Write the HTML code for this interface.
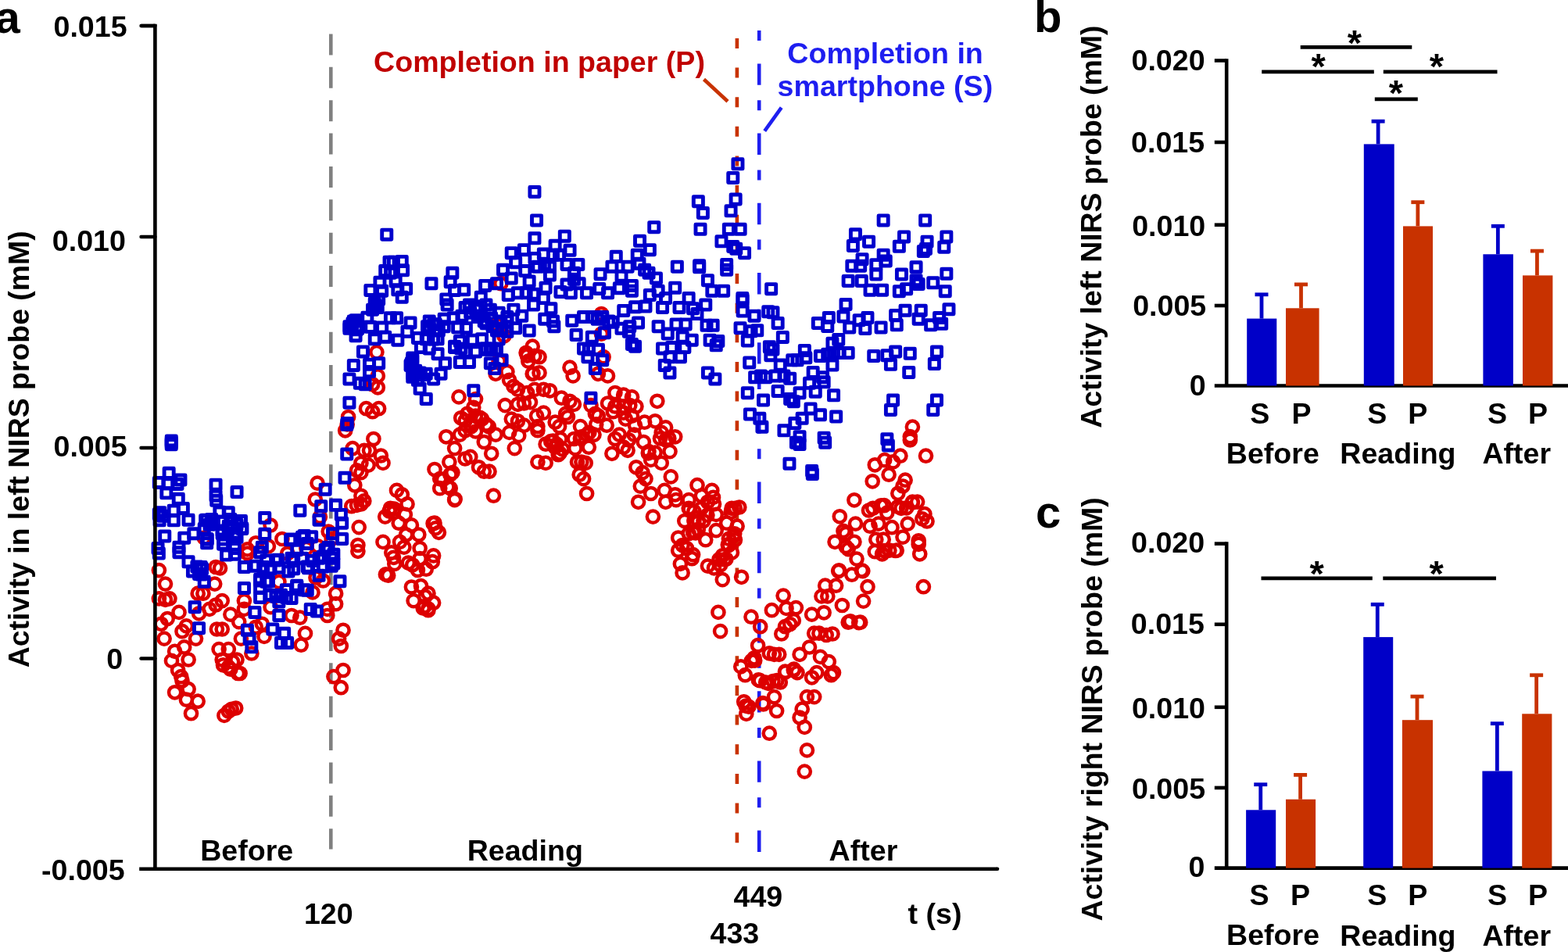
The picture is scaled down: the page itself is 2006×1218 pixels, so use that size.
<!DOCTYPE html>
<html><head><meta charset="utf-8"><title>Figure</title>
<style>html,body{margin:0;padding:0;background:#fff;overflow:hidden}svg{display:block}</style></head>
<body><svg width="2006" height="1218" viewBox="0 0 2006 1218" font-family="'Liberation Sans', Arial, Helvetica, sans-serif" font-weight="bold">
<rect width="2006" height="1218" fill="#fff"/>
<path d="M423.3 43.5 V1086.5" stroke="#808080" stroke-width="4.6" stroke-dasharray="27 15.36" fill="none"/>
<path d="M942.9 48.9 V1078.3" stroke="#C83200" stroke-width="4.6" stroke-dasharray="13 24.64" fill="none"/>
<path d="M971.2 39 V1091.3" stroke="#1E1EF0" stroke-width="4.6" stroke-dasharray="13 29.4 27.4 19.4" fill="none"/>
<path d="M900.5 101.5 L931 129.7" stroke="#C83200" stroke-width="4.6" fill="none"/>
<path d="M999.7 137.7 L978.2 167.6" stroke="#1E1EF0" stroke-width="4.6" fill="none"/>
<g fill="none" stroke="#DD0000" stroke-width="4.5">
<circle cx="406.0" cy="618.1" r="7.6"/>
<circle cx="403.3" cy="639.0" r="7.6"/>
<circle cx="409.4" cy="661.2" r="7.6"/>
<circle cx="451.1" cy="573.7" r="7.6"/>
<circle cx="441.7" cy="550.8" r="7.6"/>
<circle cx="465.9" cy="576.4" r="7.6"/>
<circle cx="461.9" cy="592.5" r="7.6"/>
<circle cx="456.5" cy="601.9" r="7.6"/>
<circle cx="461.9" cy="604.6" r="7.6"/>
<circle cx="453.8" cy="620.8" r="7.6"/>
<circle cx="461.9" cy="634.3" r="7.6"/>
<circle cx="449.8" cy="647.7" r="7.6"/>
<circle cx="456.5" cy="646.4" r="7.6"/>
<circle cx="461.9" cy="645.0" r="7.6"/>
<circle cx="459.2" cy="674.6" r="7.6"/>
<circle cx="457.9" cy="697.5" r="7.6"/>
<circle cx="346.1" cy="672.0" r="7.6"/>
<circle cx="327.3" cy="694.8" r="7.6"/>
<circle cx="343.4" cy="698.9" r="7.6"/>
<circle cx="360.9" cy="689.5" r="7.6"/>
<circle cx="316.5" cy="702.9" r="7.6"/>
<circle cx="420.2" cy="680.0" r="7.6"/>
<circle cx="424.2" cy="689.5" r="7.6"/>
<circle cx="406.7" cy="698.9" r="7.6"/>
<circle cx="391.9" cy="701.6" r="7.6"/>
<circle cx="261.3" cy="688.1" r="7.6"/>
<circle cx="203.4" cy="729.6" r="7.6"/>
<circle cx="211.5" cy="747.1" r="7.6"/>
<circle cx="276.1" cy="725.5" r="7.6"/>
<circle cx="281.5" cy="726.9" r="7.6"/>
<circle cx="274.7" cy="747.1" r="7.6"/>
<circle cx="253.2" cy="759.2" r="7.6"/>
<circle cx="259.9" cy="759.2" r="7.6"/>
<circle cx="203.4" cy="765.9" r="7.6"/>
<circle cx="216.9" cy="765.9" r="7.6"/>
<circle cx="211.5" cy="767.3" r="7.6"/>
<circle cx="229.0" cy="783.4" r="7.6"/>
<circle cx="268.0" cy="779.4" r="7.6"/>
<circle cx="276.1" cy="774.0" r="7.6"/>
<circle cx="284.2" cy="768.6" r="7.6"/>
<circle cx="254.6" cy="784.8" r="7.6"/>
<circle cx="294.9" cy="786.1" r="7.6"/>
<circle cx="312.4" cy="768.6" r="7.6"/>
<circle cx="312.4" cy="779.4" r="7.6"/>
<circle cx="305.7" cy="795.6" r="7.6"/>
<circle cx="206.1" cy="798.3" r="7.6"/>
<circle cx="214.2" cy="791.5" r="7.6"/>
<circle cx="233.0" cy="807.7" r="7.6"/>
<circle cx="238.4" cy="800.9" r="7.6"/>
<circle cx="210.1" cy="817.1" r="7.6"/>
<circle cx="250.5" cy="817.1" r="7.6"/>
<circle cx="277.4" cy="805.0" r="7.6"/>
<circle cx="284.2" cy="805.0" r="7.6"/>
<circle cx="308.4" cy="817.1" r="7.6"/>
<circle cx="338.0" cy="814.4" r="7.6"/>
<circle cx="346.1" cy="776.7" r="7.6"/>
<circle cx="356.9" cy="744.4" r="7.6"/>
<circle cx="373.0" cy="787.5" r="7.6"/>
<circle cx="383.8" cy="790.2" r="7.6"/>
<circle cx="390.5" cy="810.4" r="7.6"/>
<circle cx="385.2" cy="825.2" r="7.6"/>
<circle cx="418.8" cy="779.4" r="7.6"/>
<circle cx="418.8" cy="787.5" r="7.6"/>
<circle cx="429.6" cy="759.2" r="7.6"/>
<circle cx="429.6" cy="772.7" r="7.6"/>
<circle cx="413.4" cy="743.0" r="7.6"/>
<circle cx="404.0" cy="739.0" r="7.6"/>
<circle cx="400.0" cy="757.9" r="7.6"/>
<circle cx="316.5" cy="708.0" r="7.6"/>
<circle cx="367.7" cy="708.0" r="7.6"/>
<circle cx="457.9" cy="705.3" r="7.6"/>
<circle cx="439.0" cy="806.3" r="7.6"/>
<circle cx="433.6" cy="817.1" r="7.6"/>
<circle cx="436.3" cy="826.5" r="7.6"/>
<circle cx="223.6" cy="833.3" r="7.6"/>
<circle cx="235.7" cy="827.9" r="7.6"/>
<circle cx="241.1" cy="844.0" r="7.6"/>
<circle cx="219.5" cy="845.4" r="7.6"/>
<circle cx="227.6" cy="857.5" r="7.6"/>
<circle cx="231.7" cy="865.6" r="7.6"/>
<circle cx="280.1" cy="830.6" r="7.6"/>
<circle cx="292.3" cy="830.6" r="7.6"/>
<circle cx="284.2" cy="844.0" r="7.6"/>
<circle cx="297.6" cy="846.7" r="7.6"/>
<circle cx="303.0" cy="844.0" r="7.6"/>
<circle cx="292.3" cy="853.5" r="7.6"/>
<circle cx="307.1" cy="861.5" r="7.6"/>
<circle cx="321.9" cy="836.0" r="7.6"/>
<circle cx="439.0" cy="857.5" r="7.6"/>
<circle cx="426.9" cy="865.6" r="7.6"/>
<circle cx="335.3" cy="798.3" r="7.6"/>
<circle cx="327.3" cy="802.3" r="7.6"/>
<circle cx="233.0" cy="871.0" r="7.6"/>
<circle cx="223.6" cy="885.8" r="7.6"/>
<circle cx="241.1" cy="881.7" r="7.6"/>
<circle cx="238.4" cy="895.2" r="7.6"/>
<circle cx="253.2" cy="897.2" r="7.6"/>
<circle cx="244.5" cy="912.7" r="7.6"/>
<circle cx="304.4" cy="861.5" r="7.6"/>
<circle cx="294.9" cy="856.2" r="7.6"/>
<circle cx="285.5" cy="850.8" r="7.6"/>
<circle cx="286.9" cy="915.4" r="7.6"/>
<circle cx="292.3" cy="910.0" r="7.6"/>
<circle cx="296.3" cy="907.3" r="7.6"/>
<circle cx="301.7" cy="906.0" r="7.6"/>
<circle cx="436.3" cy="879.7" r="7.6"/>
<circle cx="640.8" cy="362.7" r="7.6"/>
<circle cx="481.9" cy="450.6" r="7.6"/>
<circle cx="483.3" cy="480.9" r="7.6"/>
<circle cx="483.3" cy="495.8" r="7.6"/>
<circle cx="476.6" cy="491.7" r="7.6"/>
<circle cx="468.5" cy="522.7" r="7.6"/>
<circle cx="476.6" cy="526.7" r="7.6"/>
<circle cx="484.6" cy="522.7" r="7.6"/>
<circle cx="445.6" cy="533.5" r="7.6"/>
<circle cx="444.2" cy="542.9" r="7.6"/>
<circle cx="644.9" cy="429.8" r="7.6"/>
<circle cx="635.4" cy="415.0" r="7.6"/>
<circle cx="638.1" cy="462.1" r="7.6"/>
<circle cx="634.1" cy="478.3" r="7.6"/>
<circle cx="648.9" cy="475.6" r="7.6"/>
<circle cx="651.6" cy="486.3" r="7.6"/>
<circle cx="657.0" cy="494.4" r="7.6"/>
<circle cx="662.4" cy="498.4" r="7.6"/>
<circle cx="673.1" cy="451.3" r="7.6"/>
<circle cx="681.2" cy="443.2" r="7.6"/>
<circle cx="683.9" cy="455.4" r="7.6"/>
<circle cx="681.2" cy="478.3" r="7.6"/>
<circle cx="675.8" cy="462.1" r="7.6"/>
<circle cx="674.5" cy="502.5" r="7.6"/>
<circle cx="683.9" cy="498.4" r="7.6"/>
<circle cx="587.0" cy="507.9" r="7.6"/>
<circle cx="608.5" cy="510.6" r="7.6"/>
<circle cx="605.8" cy="521.3" r="7.6"/>
<circle cx="589.7" cy="534.8" r="7.6"/>
<circle cx="597.7" cy="529.4" r="7.6"/>
<circle cx="608.5" cy="532.1" r="7.6"/>
<circle cx="616.6" cy="536.1" r="7.6"/>
<circle cx="601.8" cy="542.9" r="7.6"/>
<circle cx="622.0" cy="542.9" r="7.6"/>
<circle cx="646.2" cy="518.6" r="7.6"/>
<circle cx="662.4" cy="517.3" r="7.6"/>
<circle cx="670.4" cy="516.0" r="7.6"/>
<circle cx="678.5" cy="514.6" r="7.6"/>
<circle cx="654.3" cy="536.1" r="7.6"/>
<circle cx="662.4" cy="538.8" r="7.6"/>
<circle cx="670.4" cy="544.2" r="7.6"/>
<circle cx="686.6" cy="532.1" r="7.6"/>
<circle cx="687.9" cy="545.6" r="7.6"/>
<circle cx="769.4" cy="401.5" r="7.6"/>
<circle cx="769.4" cy="427.1" r="7.6"/>
<circle cx="772.1" cy="456.7" r="7.6"/>
<circle cx="690.0" cy="456.7" r="7.6"/>
<circle cx="690.0" cy="476.9" r="7.6"/>
<circle cx="729.0" cy="470.2" r="7.6"/>
<circle cx="733.1" cy="480.9" r="7.6"/>
<circle cx="765.4" cy="478.3" r="7.6"/>
<circle cx="777.5" cy="480.9" r="7.6"/>
<circle cx="695.4" cy="498.4" r="7.6"/>
<circle cx="703.5" cy="499.8" r="7.6"/>
<circle cx="718.3" cy="509.2" r="7.6"/>
<circle cx="729.0" cy="513.3" r="7.6"/>
<circle cx="734.4" cy="517.3" r="7.6"/>
<circle cx="723.7" cy="529.4" r="7.6"/>
<circle cx="726.4" cy="533.5" r="7.6"/>
<circle cx="695.4" cy="528.1" r="7.6"/>
<circle cx="756.0" cy="518.6" r="7.6"/>
<circle cx="761.4" cy="529.4" r="7.6"/>
<circle cx="765.4" cy="532.1" r="7.6"/>
<circle cx="786.9" cy="502.5" r="7.6"/>
<circle cx="797.7" cy="505.2" r="7.6"/>
<circle cx="808.5" cy="507.9" r="7.6"/>
<circle cx="777.5" cy="516.0" r="7.6"/>
<circle cx="786.9" cy="520.0" r="7.6"/>
<circle cx="797.7" cy="520.0" r="7.6"/>
<circle cx="805.8" cy="518.6" r="7.6"/>
<circle cx="813.9" cy="520.0" r="7.6"/>
<circle cx="784.3" cy="526.7" r="7.6"/>
<circle cx="797.7" cy="528.1" r="7.6"/>
<circle cx="808.5" cy="532.1" r="7.6"/>
<circle cx="800.4" cy="536.1" r="7.6"/>
<circle cx="840.8" cy="513.3" r="7.6"/>
<circle cx="838.1" cy="538.8" r="7.6"/>
<circle cx="824.6" cy="540.2" r="7.6"/>
<circle cx="812.5" cy="544.2" r="7.6"/>
<circle cx="851.6" cy="546.9" r="7.6"/>
<circle cx="776.2" cy="544.2" r="7.6"/>
<circle cx="762.7" cy="542.9" r="7.6"/>
<circle cx="742.5" cy="545.6" r="7.6"/>
<circle cx="710.2" cy="540.2" r="7.6"/>
<circle cx="715.6" cy="545.6" r="7.6"/>
<circle cx="477.9" cy="561.5" r="7.6"/>
<circle cx="472.5" cy="576.3" r="7.6"/>
<circle cx="487.3" cy="583.0" r="7.6"/>
<circle cx="490.0" cy="592.4" r="7.6"/>
<circle cx="471.2" cy="595.1" r="7.6"/>
<circle cx="465.8" cy="640.9" r="7.6"/>
<circle cx="492.7" cy="661.1" r="7.6"/>
<circle cx="499.4" cy="650.3" r="7.6"/>
<circle cx="503.5" cy="655.7" r="7.6"/>
<circle cx="507.5" cy="627.4" r="7.6"/>
<circle cx="514.3" cy="632.8" r="7.6"/>
<circle cx="521.0" cy="644.9" r="7.6"/>
<circle cx="518.3" cy="658.4" r="7.6"/>
<circle cx="510.2" cy="669.2" r="7.6"/>
<circle cx="526.4" cy="671.9" r="7.6"/>
<circle cx="535.8" cy="684.0" r="7.6"/>
<circle cx="519.6" cy="684.0" r="7.6"/>
<circle cx="511.6" cy="693.4" r="7.6"/>
<circle cx="516.9" cy="700.1" r="7.6"/>
<circle cx="537.1" cy="701.5" r="7.6"/>
<circle cx="490.0" cy="693.4" r="7.6"/>
<circle cx="500.8" cy="706.9" r="7.6"/>
<circle cx="554.6" cy="710.9" r="7.6"/>
<circle cx="556.0" cy="669.2" r="7.6"/>
<circle cx="561.4" cy="681.3" r="7.6"/>
<circle cx="556.0" cy="600.5" r="7.6"/>
<circle cx="574.8" cy="591.1" r="7.6"/>
<circle cx="578.9" cy="604.6" r="7.6"/>
<circle cx="562.7" cy="612.6" r="7.6"/>
<circle cx="562.7" cy="624.7" r="7.6"/>
<circle cx="576.2" cy="624.7" r="7.6"/>
<circle cx="581.6" cy="639.6" r="7.6"/>
<circle cx="570.8" cy="558.8" r="7.6"/>
<circle cx="581.6" cy="573.6" r="7.6"/>
<circle cx="588.3" cy="556.1" r="7.6"/>
<circle cx="595.0" cy="587.0" r="7.6"/>
<circle cx="601.8" cy="584.4" r="7.6"/>
<circle cx="595.0" cy="550.7" r="7.6"/>
<circle cx="612.5" cy="597.8" r="7.6"/>
<circle cx="619.3" cy="603.2" r="7.6"/>
<circle cx="626.0" cy="603.2" r="7.6"/>
<circle cx="619.3" cy="565.5" r="7.6"/>
<circle cx="628.7" cy="580.3" r="7.6"/>
<circle cx="634.1" cy="556.1" r="7.6"/>
<circle cx="631.4" cy="634.2" r="7.6"/>
<circle cx="651.6" cy="553.4" r="7.6"/>
<circle cx="663.7" cy="557.4" r="7.6"/>
<circle cx="658.3" cy="573.6" r="7.6"/>
<circle cx="608.5" cy="552.0" r="7.6"/>
<circle cx="687.9" cy="550.7" r="7.6"/>
<circle cx="687.9" cy="591.1" r="7.6"/>
<circle cx="698.1" cy="568.2" r="7.6"/>
<circle cx="707.5" cy="564.2" r="7.6"/>
<circle cx="716.9" cy="561.5" r="7.6"/>
<circle cx="714.2" cy="581.7" r="7.6"/>
<circle cx="710.2" cy="572.2" r="7.6"/>
<circle cx="719.6" cy="574.9" r="7.6"/>
<circle cx="698.1" cy="592.4" r="7.6"/>
<circle cx="734.4" cy="561.5" r="7.6"/>
<circle cx="735.8" cy="573.6" r="7.6"/>
<circle cx="743.9" cy="558.8" r="7.6"/>
<circle cx="753.3" cy="572.2" r="7.6"/>
<circle cx="750.6" cy="556.1" r="7.6"/>
<circle cx="760.0" cy="556.1" r="7.6"/>
<circle cx="743.9" cy="591.1" r="7.6"/>
<circle cx="738.5" cy="591.1" r="7.6"/>
<circle cx="749.2" cy="592.4" r="7.6"/>
<circle cx="741.2" cy="607.2" r="7.6"/>
<circle cx="746.6" cy="612.6" r="7.6"/>
<circle cx="750.6" cy="631.5" r="7.6"/>
<circle cx="782.9" cy="580.3" r="7.6"/>
<circle cx="786.9" cy="561.5" r="7.6"/>
<circle cx="797.7" cy="572.2" r="7.6"/>
<circle cx="803.1" cy="576.3" r="7.6"/>
<circle cx="792.3" cy="556.1" r="7.6"/>
<circle cx="804.4" cy="562.8" r="7.6"/>
<circle cx="811.2" cy="556.1" r="7.6"/>
<circle cx="823.3" cy="565.5" r="7.6"/>
<circle cx="830.0" cy="577.6" r="7.6"/>
<circle cx="838.1" cy="579.0" r="7.6"/>
<circle cx="832.7" cy="588.4" r="7.6"/>
<circle cx="846.2" cy="592.4" r="7.6"/>
<circle cx="857.0" cy="577.6" r="7.6"/>
<circle cx="851.6" cy="562.8" r="7.6"/>
<circle cx="863.7" cy="558.8" r="7.6"/>
<circle cx="846.2" cy="553.4" r="7.6"/>
<circle cx="813.9" cy="597.8" r="7.6"/>
<circle cx="822.0" cy="604.6" r="7.6"/>
<circle cx="826.0" cy="612.6" r="7.6"/>
<circle cx="819.3" cy="622.1" r="7.6"/>
<circle cx="832.7" cy="631.5" r="7.6"/>
<circle cx="858.3" cy="609.9" r="7.6"/>
<circle cx="816.6" cy="642.3" r="7.6"/>
<circle cx="850.2" cy="627.4" r="7.6"/>
<circle cx="851.6" cy="642.3" r="7.6"/>
<circle cx="863.7" cy="632.8" r="7.6"/>
<circle cx="865.0" cy="639.6" r="7.6"/>
<circle cx="835.4" cy="661.1" r="7.6"/>
<circle cx="892.0" cy="620.7" r="7.6"/>
<circle cx="881.2" cy="639.6" r="7.6"/>
<circle cx="910.8" cy="627.4" r="7.6"/>
<circle cx="897.4" cy="634.2" r="7.6"/>
<circle cx="905.4" cy="642.3" r="7.6"/>
<circle cx="881.2" cy="650.3" r="7.6"/>
<circle cx="887.9" cy="654.4" r="7.6"/>
<circle cx="897.4" cy="650.3" r="7.6"/>
<circle cx="913.5" cy="644.9" r="7.6"/>
<circle cx="916.2" cy="658.4" r="7.6"/>
<circle cx="875.8" cy="666.5" r="7.6"/>
<circle cx="887.9" cy="666.5" r="7.6"/>
<circle cx="900.0" cy="666.5" r="7.6"/>
<circle cx="893.3" cy="677.3" r="7.6"/>
<circle cx="886.6" cy="681.3" r="7.6"/>
<circle cx="881.2" cy="682.6" r="7.6"/>
<circle cx="916.2" cy="678.6" r="7.6"/>
<circle cx="902.7" cy="690.7" r="7.6"/>
<circle cx="867.7" cy="688.0" r="7.6"/>
<circle cx="873.1" cy="697.5" r="7.6"/>
<circle cx="867.7" cy="704.2" r="7.6"/>
<circle cx="878.5" cy="701.5" r="7.6"/>
<circle cx="886.6" cy="709.6" r="7.6"/>
<circle cx="929.7" cy="669.2" r="7.6"/>
<circle cx="940.4" cy="650.3" r="7.6"/>
<circle cx="945.8" cy="649.0" r="7.6"/>
<circle cx="943.1" cy="673.2" r="7.6"/>
<circle cx="932.4" cy="689.4" r="7.6"/>
<circle cx="940.4" cy="690.7" r="7.6"/>
<circle cx="932.4" cy="697.5" r="7.6"/>
<circle cx="936.4" cy="706.9" r="7.6"/>
<circle cx="924.3" cy="710.9" r="7.6"/>
<circle cx="496.7" cy="736.2" r="7.6"/>
<circle cx="493.4" cy="734.9" r="7.6"/>
<circle cx="504.8" cy="721.4" r="7.6"/>
<circle cx="503.5" cy="713.3" r="7.6"/>
<circle cx="522.3" cy="720.1" r="7.6"/>
<circle cx="527.7" cy="722.8" r="7.6"/>
<circle cx="534.4" cy="729.5" r="7.6"/>
<circle cx="545.2" cy="728.2" r="7.6"/>
<circle cx="537.1" cy="714.7" r="7.6"/>
<circle cx="553.3" cy="718.7" r="7.6"/>
<circle cx="526.4" cy="751.0" r="7.6"/>
<circle cx="538.5" cy="749.7" r="7.6"/>
<circle cx="547.9" cy="759.1" r="7.6"/>
<circle cx="543.9" cy="763.2" r="7.6"/>
<circle cx="529.1" cy="768.6" r="7.6"/>
<circle cx="554.6" cy="771.2" r="7.6"/>
<circle cx="547.9" cy="780.7" r="7.6"/>
<circle cx="541.2" cy="778.0" r="7.6"/>
<circle cx="870.4" cy="721.4" r="7.6"/>
<circle cx="873.1" cy="732.9" r="7.6"/>
<circle cx="885.2" cy="714.7" r="7.6"/>
<circle cx="905.4" cy="724.1" r="7.6"/>
<circle cx="913.5" cy="726.8" r="7.6"/>
<circle cx="921.6" cy="722.8" r="7.6"/>
<circle cx="927.0" cy="716.0" r="7.6"/>
<circle cx="924.3" cy="741.6" r="7.6"/>
<circle cx="918.9" cy="783.4" r="7.6"/>
<circle cx="921.6" cy="807.6" r="7.6"/>
<circle cx="1167.4" cy="546.2" r="7.6"/>
<circle cx="1164.3" cy="558.6" r="7.6"/>
<circle cx="1184.5" cy="583.2" r="7.6"/>
<circle cx="1151.9" cy="583.2" r="7.6"/>
<circle cx="1131.7" cy="588.6" r="7.6"/>
<circle cx="1142.6" cy="590.9" r="7.6"/>
<circle cx="1119.3" cy="594.8" r="7.6"/>
<circle cx="1137.1" cy="607.2" r="7.6"/>
<circle cx="1116.2" cy="615.8" r="7.6"/>
<circle cx="1158.1" cy="614.2" r="7.6"/>
<circle cx="1155.0" cy="622.0" r="7.6"/>
<circle cx="1148.8" cy="631.3" r="7.6"/>
<circle cx="1092.9" cy="639.8" r="7.6"/>
<circle cx="1074.3" cy="660.8" r="7.6"/>
<circle cx="1111.5" cy="653.0" r="7.6"/>
<circle cx="1127.1" cy="646.8" r="7.6"/>
<circle cx="1134.8" cy="656.1" r="7.6"/>
<circle cx="1148.8" cy="648.3" r="7.6"/>
<circle cx="1159.6" cy="649.9" r="7.6"/>
<circle cx="1167.4" cy="642.1" r="7.6"/>
<circle cx="1173.6" cy="642.1" r="7.6"/>
<circle cx="1182.9" cy="657.6" r="7.6"/>
<circle cx="1186.0" cy="667.0" r="7.6"/>
<circle cx="1179.8" cy="663.9" r="7.6"/>
<circle cx="1161.2" cy="670.1" r="7.6"/>
<circle cx="1141.0" cy="674.7" r="7.6"/>
<circle cx="1123.9" cy="670.1" r="7.6"/>
<circle cx="1113.1" cy="673.2" r="7.6"/>
<circle cx="1094.5" cy="670.1" r="7.6"/>
<circle cx="1079.0" cy="679.4" r="7.6"/>
<circle cx="1082.1" cy="682.5" r="7.6"/>
<circle cx="1092.9" cy="693.3" r="7.6"/>
<circle cx="1068.1" cy="693.3" r="7.6"/>
<circle cx="1085.2" cy="702.6" r="7.6"/>
<circle cx="1082.1" cy="699.5" r="7.6"/>
<circle cx="1096.0" cy="715.1" r="7.6"/>
<circle cx="1120.8" cy="690.2" r="7.6"/>
<circle cx="1130.2" cy="690.2" r="7.6"/>
<circle cx="1155.0" cy="687.1" r="7.6"/>
<circle cx="1175.2" cy="691.8" r="7.6"/>
<circle cx="1175.2" cy="696.4" r="7.6"/>
<circle cx="1176.7" cy="708.8" r="7.6"/>
<circle cx="1119.3" cy="705.7" r="7.6"/>
<circle cx="1128.6" cy="708.8" r="7.6"/>
<circle cx="1137.9" cy="704.2" r="7.6"/>
<circle cx="1147.2" cy="704.2" r="7.6"/>
<circle cx="1072.7" cy="730.6" r="7.6"/>
<circle cx="1089.8" cy="735.2" r="7.6"/>
<circle cx="1103.8" cy="730.6" r="7.6"/>
<circle cx="1055.7" cy="749.2" r="7.6"/>
<circle cx="1069.6" cy="749.2" r="7.6"/>
<circle cx="1110.0" cy="750.7" r="7.6"/>
<circle cx="1181.4" cy="750.7" r="7.6"/>
<circle cx="948.6" cy="738.3" r="7.6"/>
<circle cx="1164.3" cy="563.0" r="7.6"/>
<circle cx="1002.1" cy="762.1" r="7.6"/>
<circle cx="987.4" cy="780.7" r="7.6"/>
<circle cx="1006.0" cy="778.4" r="7.6"/>
<circle cx="1018.4" cy="777.6" r="7.6"/>
<circle cx="961.0" cy="789.2" r="7.6"/>
<circle cx="972.7" cy="801.7" r="7.6"/>
<circle cx="999.8" cy="811.0" r="7.6"/>
<circle cx="1004.5" cy="801.7" r="7.6"/>
<circle cx="1010.7" cy="798.5" r="7.6"/>
<circle cx="1015.3" cy="793.9" r="7.6"/>
<circle cx="1051.0" cy="762.9" r="7.6"/>
<circle cx="1058.8" cy="762.9" r="7.6"/>
<circle cx="1038.6" cy="786.1" r="7.6"/>
<circle cx="1054.1" cy="783.8" r="7.6"/>
<circle cx="1077.4" cy="774.5" r="7.6"/>
<circle cx="1104.6" cy="769.1" r="7.6"/>
<circle cx="1085.2" cy="796.2" r="7.6"/>
<circle cx="1100.7" cy="796.2" r="7.6"/>
<circle cx="1041.7" cy="810.2" r="7.6"/>
<circle cx="1047.9" cy="810.2" r="7.6"/>
<circle cx="1057.2" cy="812.5" r="7.6"/>
<circle cx="1065.0" cy="811.0" r="7.6"/>
<circle cx="969.6" cy="825.7" r="7.6"/>
<circle cx="984.3" cy="835.8" r="7.6"/>
<circle cx="996.7" cy="837.3" r="7.6"/>
<circle cx="990.5" cy="837.3" r="7.6"/>
<circle cx="1023.1" cy="837.3" r="7.6"/>
<circle cx="1035.5" cy="828.0" r="7.6"/>
<circle cx="1049.5" cy="840.4" r="7.6"/>
<circle cx="1060.3" cy="846.6" r="7.6"/>
<circle cx="965.7" cy="845.1" r="7.6"/>
<circle cx="947.8" cy="852.9" r="7.6"/>
<circle cx="953.3" cy="863.7" r="7.6"/>
<circle cx="970.3" cy="869.9" r="7.6"/>
<circle cx="979.7" cy="873.0" r="7.6"/>
<circle cx="989.0" cy="871.5" r="7.6"/>
<circle cx="998.3" cy="873.0" r="7.6"/>
<circle cx="1004.5" cy="859.1" r="7.6"/>
<circle cx="1015.3" cy="857.5" r="7.6"/>
<circle cx="1020.0" cy="860.6" r="7.6"/>
<circle cx="1038.6" cy="866.8" r="7.6"/>
<circle cx="1044.8" cy="860.6" r="7.6"/>
<circle cx="1063.4" cy="863.7" r="7.6"/>
<circle cx="1066.5" cy="860.6" r="7.6"/>
<circle cx="951.7" cy="897.8" r="7.6"/>
<circle cx="957.9" cy="904.1" r="7.6"/>
<circle cx="954.8" cy="913.4" r="7.6"/>
<circle cx="976.5" cy="901.0" r="7.6"/>
<circle cx="990.5" cy="891.6" r="7.6"/>
<circle cx="993.6" cy="909.5" r="7.6"/>
<circle cx="1032.4" cy="891.6" r="7.6"/>
<circle cx="1041.7" cy="891.6" r="7.6"/>
<circle cx="1026.2" cy="907.2" r="7.6"/>
<circle cx="1023.1" cy="918.0" r="7.6"/>
<circle cx="1029.3" cy="930.4" r="7.6"/>
<circle cx="984.3" cy="938.2" r="7.6"/>
<circle cx="1032.4" cy="959.9" r="7.6"/>
<circle cx="1029.3" cy="987.1" r="7.6"/>
<circle cx="972.3" cy="870.7" r="7.6"/>
<circle cx="983.1" cy="874.3" r="7.6"/>
<circle cx="993.9" cy="870.7" r="7.6"/>
<circle cx="1004.8" cy="859.9" r="7.6"/>
<circle cx="1015.6" cy="856.2" r="7.6"/>
<circle cx="961.4" cy="845.4" r="7.6"/>
<circle cx="965.0" cy="841.8" r="7.6"/>
<circle cx="1073.4" cy="729.8" r="7.6"/>
<circle cx="1102.3" cy="729.8" r="7.6"/>
<circle cx="1087.9" cy="794.8" r="7.6"/>
<circle cx="1098.7" cy="796.6" r="7.6"/>
<circle cx="1116.8" cy="650.3" r="7.6"/>
<circle cx="1131.2" cy="646.7" r="7.6"/>
<circle cx="1152.9" cy="650.3" r="7.6"/>
<circle cx="1167.3" cy="643.1" r="7.6"/>
<circle cx="936.1" cy="650.3" r="7.6"/>
<circle cx="939.7" cy="682.8" r="7.6"/>
<circle cx="928.9" cy="715.3" r="7.6"/>
<circle cx="954.2" cy="903.2" r="7.6"/>
<circle cx="975.9" cy="899.6" r="7.6"/>
<circle cx="1131.2" cy="704.5" r="7.6"/>
<circle cx="1145.7" cy="704.5" r="7.6"/>
<circle cx="595.1" cy="538.2" r="7.6"/>
<circle cx="602.7" cy="545.8" r="7.6"/>
<circle cx="625.3" cy="545.8" r="7.6"/>
<circle cx="614.0" cy="534.4" r="7.6"/>
<circle cx="712.2" cy="568.4" r="7.6"/>
<circle cx="716.0" cy="579.8" r="7.6"/>
<circle cx="704.7" cy="564.7" r="7.6"/>
<circle cx="674.4" cy="455.1" r="7.6"/>
<circle cx="682.0" cy="477.8" r="7.6"/>
<circle cx="882.2" cy="651.6" r="7.6"/>
<circle cx="893.6" cy="666.7" r="7.6"/>
<circle cx="904.9" cy="659.1" r="7.6"/>
<circle cx="889.8" cy="681.8" r="7.6"/>
<circle cx="912.5" cy="636.4" r="7.6"/>
<circle cx="935.1" cy="655.3" r="7.6"/>
<circle cx="938.9" cy="685.6" r="7.6"/>
<circle cx="931.3" cy="696.9" r="7.6"/>
<circle cx="920.0" cy="715.8" r="7.6"/>
<circle cx="829.3" cy="579.8" r="7.6"/>
<circle cx="844.5" cy="560.9" r="7.6"/>
<circle cx="855.8" cy="560.9" r="7.6"/>
<circle cx="742.4" cy="560.9" r="7.6"/>
<circle cx="753.8" cy="553.3" r="7.6"/>
<circle cx="566.6" cy="613.5" r="7.6"/>
<circle cx="572.8" cy="622.9" r="7.6"/>
<circle cx="582.1" cy="638.5" r="7.6"/>
<circle cx="575.9" cy="607.3" r="7.6"/>
<circle cx="547.8" cy="778.8" r="7.6"/>
<circle cx="543.2" cy="775.7" r="7.6"/>
<circle cx="554.1" cy="669.7" r="7.6"/>
<circle cx="557.2" cy="675.9" r="7.6"/>
<circle cx="498.0" cy="654.1" r="7.6"/>
<circle cx="504.2" cy="651.0" r="7.6"/>
</g>
<g fill="none" stroke="#0000CC" stroke-width="4.9" stroke-linejoin="round">
<rect x="213.2" y="557.9" width="12.1" height="12.1"/>
<rect x="213.2" y="560.2" width="12.1" height="12.1"/>
<rect x="213.2" y="562.6" width="12.1" height="12.1"/>
<rect x="210.1" y="599.3" width="12.1" height="12.1"/>
<rect x="224.9" y="608.0" width="12.1" height="12.1"/>
<rect x="197.3" y="611.4" width="12.1" height="12.1"/>
<rect x="208.8" y="612.7" width="12.1" height="12.1"/>
<rect x="220.9" y="613.4" width="12.1" height="12.1"/>
<rect x="206.8" y="624.8" width="12.1" height="12.1"/>
<rect x="222.2" y="632.2" width="12.1" height="12.1"/>
<rect x="270.0" y="614.1" width="12.1" height="12.1"/>
<rect x="270.0" y="628.2" width="12.1" height="12.1"/>
<rect x="270.7" y="634.3" width="12.1" height="12.1"/>
<rect x="297.0" y="623.5" width="12.1" height="12.1"/>
<rect x="198.7" y="649.7" width="12.1" height="12.1"/>
<rect x="216.2" y="647.1" width="12.1" height="12.1"/>
<rect x="228.3" y="644.4" width="12.1" height="12.1"/>
<rect x="198.0" y="659.8" width="12.1" height="12.1"/>
<rect x="216.2" y="659.8" width="12.1" height="12.1"/>
<rect x="235.0" y="659.2" width="12.1" height="12.1"/>
<rect x="257.9" y="659.2" width="12.1" height="12.1"/>
<rect x="264.7" y="663.2" width="12.1" height="12.1"/>
<rect x="274.8" y="649.1" width="12.1" height="12.1"/>
<rect x="286.2" y="649.7" width="12.1" height="12.1"/>
<rect x="302.4" y="660.5" width="12.1" height="12.1"/>
<rect x="303.7" y="669.9" width="12.1" height="12.1"/>
<rect x="286.2" y="667.2" width="12.1" height="12.1"/>
<rect x="278.1" y="676.7" width="12.1" height="12.1"/>
<rect x="294.3" y="679.4" width="12.1" height="12.1"/>
<rect x="241.8" y="676.7" width="12.1" height="12.1"/>
<rect x="229.7" y="682.1" width="12.1" height="12.1"/>
<rect x="204.7" y="680.0" width="12.1" height="12.1"/>
<rect x="258.6" y="683.4" width="12.1" height="12.1"/>
<rect x="258.6" y="688.8" width="12.1" height="12.1"/>
<rect x="279.5" y="690.1" width="12.1" height="12.1"/>
<rect x="222.9" y="694.2" width="12.1" height="12.1"/>
<rect x="196.0" y="695.5" width="12.1" height="12.1"/>
<rect x="294.3" y="695.5" width="12.1" height="12.1"/>
<rect x="332.7" y="656.5" width="12.1" height="12.1"/>
<rect x="332.7" y="677.3" width="12.1" height="12.1"/>
<rect x="329.3" y="694.2" width="12.1" height="12.1"/>
<rect x="377.8" y="647.1" width="12.1" height="12.1"/>
<rect x="365.6" y="684.8" width="12.1" height="12.1"/>
<rect x="383.1" y="679.4" width="12.1" height="12.1"/>
<rect x="392.6" y="680.7" width="12.1" height="12.1"/>
<rect x="402.0" y="659.2" width="12.1" height="12.1"/>
<rect x="404.7" y="641.7" width="12.1" height="12.1"/>
<rect x="410.1" y="620.1" width="12.1" height="12.1"/>
<rect x="423.5" y="640.3" width="12.1" height="12.1"/>
<rect x="430.3" y="652.4" width="12.1" height="12.1"/>
<rect x="431.6" y="663.2" width="12.1" height="12.1"/>
<rect x="419.5" y="676.7" width="12.1" height="12.1"/>
<rect x="431.6" y="683.4" width="12.1" height="12.1"/>
<rect x="414.1" y="694.2" width="12.1" height="12.1"/>
<rect x="435.0" y="605.3" width="12.1" height="12.1"/>
<rect x="437.7" y="575.0" width="12.1" height="12.1"/>
<rect x="437.7" y="537.3" width="12.1" height="12.1"/>
<rect x="197.3" y="702.0" width="12.1" height="12.1"/>
<rect x="222.9" y="700.6" width="12.1" height="12.1"/>
<rect x="235.0" y="712.8" width="12.1" height="12.1"/>
<rect x="251.2" y="719.5" width="12.1" height="12.1"/>
<rect x="240.4" y="724.9" width="12.1" height="12.1"/>
<rect x="251.2" y="728.9" width="12.1" height="12.1"/>
<rect x="255.2" y="738.3" width="12.1" height="12.1"/>
<rect x="283.5" y="704.0" width="12.1" height="12.1"/>
<rect x="294.3" y="703.3" width="12.1" height="12.1"/>
<rect x="306.4" y="719.5" width="12.1" height="12.1"/>
<rect x="321.2" y="718.1" width="12.1" height="12.1"/>
<rect x="330.6" y="719.5" width="12.1" height="12.1"/>
<rect x="326.6" y="700.6" width="12.1" height="12.1"/>
<rect x="349.5" y="710.1" width="12.1" height="12.1"/>
<rect x="369.7" y="711.4" width="12.1" height="12.1"/>
<rect x="362.9" y="724.9" width="12.1" height="12.1"/>
<rect x="393.9" y="711.4" width="12.1" height="12.1"/>
<rect x="407.4" y="706.0" width="12.1" height="12.1"/>
<rect x="420.8" y="703.3" width="12.1" height="12.1"/>
<rect x="418.2" y="718.1" width="12.1" height="12.1"/>
<rect x="388.5" y="720.8" width="12.1" height="12.1"/>
<rect x="402.0" y="730.3" width="12.1" height="12.1"/>
<rect x="428.9" y="737.7" width="12.1" height="12.1"/>
<rect x="326.6" y="737.0" width="12.1" height="12.1"/>
<rect x="334.7" y="738.3" width="12.1" height="12.1"/>
<rect x="306.4" y="746.4" width="12.1" height="12.1"/>
<rect x="326.6" y="758.5" width="12.1" height="12.1"/>
<rect x="346.8" y="757.2" width="12.1" height="12.1"/>
<rect x="360.3" y="758.5" width="12.1" height="12.1"/>
<rect x="373.7" y="743.7" width="12.1" height="12.1"/>
<rect x="387.2" y="749.1" width="12.1" height="12.1"/>
<rect x="350.8" y="763.9" width="12.1" height="12.1"/>
<rect x="319.9" y="777.4" width="12.1" height="12.1"/>
<rect x="350.8" y="781.4" width="12.1" height="12.1"/>
<rect x="391.2" y="773.4" width="12.1" height="12.1"/>
<rect x="399.3" y="776.0" width="12.1" height="12.1"/>
<rect x="243.1" y="770.7" width="12.1" height="12.1"/>
<rect x="248.5" y="797.6" width="12.1" height="12.1"/>
<rect x="310.4" y="800.3" width="12.1" height="12.1"/>
<rect x="313.1" y="811.1" width="12.1" height="12.1"/>
<rect x="315.8" y="821.8" width="12.1" height="12.1"/>
<rect x="342.8" y="798.9" width="12.1" height="12.1"/>
<rect x="357.6" y="804.3" width="12.1" height="12.1"/>
<rect x="353.5" y="816.4" width="12.1" height="12.1"/>
<rect x="361.6" y="816.4" width="12.1" height="12.1"/>
<rect x="488.7" y="294.1" width="12.1" height="12.1"/>
<rect x="492.0" y="329.1" width="12.1" height="12.1"/>
<rect x="497.4" y="329.1" width="12.1" height="12.1"/>
<rect x="508.2" y="328.4" width="12.1" height="12.1"/>
<rect x="486.7" y="340.5" width="12.1" height="12.1"/>
<rect x="493.4" y="343.2" width="12.1" height="12.1"/>
<rect x="509.5" y="339.8" width="12.1" height="12.1"/>
<rect x="479.9" y="355.3" width="12.1" height="12.1"/>
<rect x="500.1" y="354.0" width="12.1" height="12.1"/>
<rect x="467.8" y="365.4" width="12.1" height="12.1"/>
<rect x="482.6" y="366.1" width="12.1" height="12.1"/>
<rect x="502.8" y="364.8" width="12.1" height="12.1"/>
<rect x="513.6" y="363.4" width="12.1" height="12.1"/>
<rect x="508.2" y="374.2" width="12.1" height="12.1"/>
<rect x="545.9" y="356.7" width="12.1" height="12.1"/>
<rect x="572.8" y="343.2" width="12.1" height="12.1"/>
<rect x="570.1" y="354.7" width="12.1" height="12.1"/>
<rect x="575.5" y="365.4" width="12.1" height="12.1"/>
<rect x="587.6" y="364.8" width="12.1" height="12.1"/>
<rect x="614.6" y="359.4" width="12.1" height="12.1"/>
<rect x="629.4" y="356.7" width="12.1" height="12.1"/>
<rect x="637.5" y="339.2" width="12.1" height="12.1"/>
<rect x="648.2" y="317.6" width="12.1" height="12.1"/>
<rect x="653.6" y="329.7" width="12.1" height="12.1"/>
<rect x="648.2" y="349.9" width="12.1" height="12.1"/>
<rect x="664.4" y="313.6" width="12.1" height="12.1"/>
<rect x="665.7" y="340.5" width="12.1" height="12.1"/>
<rect x="671.1" y="354.0" width="12.1" height="12.1"/>
<rect x="677.9" y="239.5" width="12.1" height="12.1"/>
<rect x="680.5" y="275.9" width="12.1" height="12.1"/>
<rect x="677.9" y="298.8" width="12.1" height="12.1"/>
<rect x="677.9" y="324.4" width="12.1" height="12.1"/>
<rect x="681.9" y="335.1" width="12.1" height="12.1"/>
<rect x="644.2" y="371.5" width="12.1" height="12.1"/>
<rect x="656.3" y="368.8" width="12.1" height="12.1"/>
<rect x="667.1" y="368.8" width="12.1" height="12.1"/>
<rect x="676.5" y="370.1" width="12.1" height="12.1"/>
<rect x="609.2" y="374.2" width="12.1" height="12.1"/>
<rect x="564.8" y="376.9" width="12.1" height="12.1"/>
<rect x="478.6" y="376.9" width="12.1" height="12.1"/>
<rect x="931.7" y="221.4" width="12.1" height="12.1"/>
<rect x="935.1" y="249.0" width="12.1" height="12.1"/>
<rect x="929.0" y="263.8" width="12.1" height="12.1"/>
<rect x="887.3" y="251.7" width="12.1" height="12.1"/>
<rect x="893.3" y="266.5" width="12.1" height="12.1"/>
<rect x="890.0" y="287.3" width="12.1" height="12.1"/>
<rect x="926.3" y="287.3" width="12.1" height="12.1"/>
<rect x="941.1" y="287.3" width="12.1" height="12.1"/>
<rect x="916.9" y="302.8" width="12.1" height="12.1"/>
<rect x="931.7" y="309.5" width="12.1" height="12.1"/>
<rect x="935.7" y="312.2" width="12.1" height="12.1"/>
<rect x="946.5" y="317.6" width="12.1" height="12.1"/>
<rect x="888.6" y="333.8" width="12.1" height="12.1"/>
<rect x="888.6" y="335.8" width="12.1" height="12.1"/>
<rect x="923.6" y="332.4" width="12.1" height="12.1"/>
<rect x="923.6" y="339.2" width="12.1" height="12.1"/>
<rect x="899.4" y="352.6" width="12.1" height="12.1"/>
<rect x="904.8" y="366.1" width="12.1" height="12.1"/>
<rect x="919.6" y="366.1" width="12.1" height="12.1"/>
<rect x="875.1" y="375.5" width="12.1" height="12.1"/>
<rect x="943.8" y="375.5" width="12.1" height="12.1"/>
<rect x="860.3" y="335.1" width="12.1" height="12.1"/>
<rect x="857.6" y="362.1" width="12.1" height="12.1"/>
<rect x="830.7" y="284.6" width="12.1" height="12.1"/>
<rect x="812.5" y="302.1" width="12.1" height="12.1"/>
<rect x="825.3" y="313.6" width="12.1" height="12.1"/>
<rect x="809.2" y="320.3" width="12.1" height="12.1"/>
<rect x="782.2" y="322.3" width="12.1" height="12.1"/>
<rect x="776.9" y="335.1" width="12.1" height="12.1"/>
<rect x="797.1" y="335.1" width="12.1" height="12.1"/>
<rect x="811.9" y="331.1" width="12.1" height="12.1"/>
<rect x="818.6" y="339.2" width="12.1" height="12.1"/>
<rect x="824.0" y="343.2" width="12.1" height="12.1"/>
<rect x="833.4" y="349.9" width="12.1" height="12.1"/>
<rect x="762.0" y="344.6" width="12.1" height="12.1"/>
<rect x="789.0" y="347.2" width="12.1" height="12.1"/>
<rect x="760.7" y="363.4" width="12.1" height="12.1"/>
<rect x="771.5" y="368.8" width="12.1" height="12.1"/>
<rect x="786.3" y="362.7" width="12.1" height="12.1"/>
<rect x="802.4" y="359.4" width="12.1" height="12.1"/>
<rect x="802.4" y="366.1" width="12.1" height="12.1"/>
<rect x="836.1" y="366.1" width="12.1" height="12.1"/>
<rect x="825.3" y="371.5" width="12.1" height="12.1"/>
<rect x="845.5" y="375.5" width="12.1" height="12.1"/>
<rect x="716.3" y="296.1" width="12.1" height="12.1"/>
<rect x="704.1" y="308.2" width="12.1" height="12.1"/>
<rect x="723.0" y="314.3" width="12.1" height="12.1"/>
<rect x="689.3" y="319.0" width="12.1" height="12.1"/>
<rect x="701.5" y="320.3" width="12.1" height="12.1"/>
<rect x="709.5" y="320.3" width="12.1" height="12.1"/>
<rect x="697.4" y="335.1" width="12.1" height="12.1"/>
<rect x="719.0" y="332.4" width="12.1" height="12.1"/>
<rect x="733.8" y="332.4" width="12.1" height="12.1"/>
<rect x="690.7" y="332.4" width="12.1" height="12.1"/>
<rect x="697.4" y="345.9" width="12.1" height="12.1"/>
<rect x="728.4" y="343.2" width="12.1" height="12.1"/>
<rect x="728.4" y="351.3" width="12.1" height="12.1"/>
<rect x="692.0" y="362.1" width="12.1" height="12.1"/>
<rect x="719.0" y="358.0" width="12.1" height="12.1"/>
<rect x="735.1" y="356.7" width="12.1" height="12.1"/>
<rect x="710.9" y="367.4" width="12.1" height="12.1"/>
<rect x="744.5" y="368.8" width="12.1" height="12.1"/>
<rect x="724.3" y="368.8" width="12.1" height="12.1"/>
<rect x="689.3" y="375.5" width="12.1" height="12.1"/>
<rect x="475.2" y="385.4" width="12.1" height="12.1"/>
<rect x="463.8" y="400.2" width="12.1" height="12.1"/>
<rect x="446.3" y="404.9" width="12.1" height="12.1"/>
<rect x="440.9" y="411.6" width="12.1" height="12.1"/>
<rect x="450.3" y="415.7" width="12.1" height="12.1"/>
<rect x="449.0" y="423.7" width="12.1" height="12.1"/>
<rect x="467.8" y="412.3" width="12.1" height="12.1"/>
<rect x="482.6" y="413.0" width="12.1" height="12.1"/>
<rect x="493.4" y="400.8" width="12.1" height="12.1"/>
<rect x="501.5" y="400.8" width="12.1" height="12.1"/>
<rect x="473.2" y="427.8" width="12.1" height="12.1"/>
<rect x="486.7" y="425.1" width="12.1" height="12.1"/>
<rect x="502.8" y="429.1" width="12.1" height="12.1"/>
<rect x="519.0" y="406.9" width="12.1" height="12.1"/>
<rect x="514.9" y="418.3" width="12.1" height="12.1"/>
<rect x="528.4" y="426.4" width="12.1" height="12.1"/>
<rect x="539.2" y="427.8" width="12.1" height="12.1"/>
<rect x="548.6" y="427.8" width="12.1" height="12.1"/>
<rect x="554.0" y="427.8" width="12.1" height="12.1"/>
<rect x="540.5" y="411.6" width="12.1" height="12.1"/>
<rect x="548.6" y="408.9" width="12.1" height="12.1"/>
<rect x="562.1" y="402.2" width="12.1" height="12.1"/>
<rect x="566.1" y="384.0" width="12.1" height="12.1"/>
<rect x="574.2" y="400.8" width="12.1" height="12.1"/>
<rect x="584.9" y="398.1" width="12.1" height="12.1"/>
<rect x="579.6" y="413.0" width="12.1" height="12.1"/>
<rect x="590.3" y="413.6" width="12.1" height="12.1"/>
<rect x="594.4" y="384.0" width="12.1" height="12.1"/>
<rect x="605.1" y="386.0" width="12.1" height="12.1"/>
<rect x="615.9" y="384.0" width="12.1" height="12.1"/>
<rect x="605.1" y="399.5" width="12.1" height="12.1"/>
<rect x="613.2" y="404.9" width="12.1" height="12.1"/>
<rect x="624.0" y="411.6" width="12.1" height="12.1"/>
<rect x="634.8" y="404.9" width="12.1" height="12.1"/>
<rect x="642.8" y="399.5" width="12.1" height="12.1"/>
<rect x="650.9" y="390.1" width="12.1" height="12.1"/>
<rect x="661.7" y="398.1" width="12.1" height="12.1"/>
<rect x="653.6" y="413.6" width="12.1" height="12.1"/>
<rect x="642.8" y="418.3" width="12.1" height="12.1"/>
<rect x="632.1" y="427.8" width="12.1" height="12.1"/>
<rect x="610.5" y="427.8" width="12.1" height="12.1"/>
<rect x="598.4" y="429.1" width="12.1" height="12.1"/>
<rect x="671.1" y="417.0" width="12.1" height="12.1"/>
<rect x="676.5" y="384.0" width="12.1" height="12.1"/>
<rect x="532.4" y="438.5" width="12.1" height="12.1"/>
<rect x="543.2" y="439.9" width="12.1" height="12.1"/>
<rect x="554.0" y="446.6" width="12.1" height="12.1"/>
<rect x="575.5" y="438.5" width="12.1" height="12.1"/>
<rect x="583.6" y="439.9" width="12.1" height="12.1"/>
<rect x="602.5" y="443.9" width="12.1" height="12.1"/>
<rect x="615.9" y="439.9" width="12.1" height="12.1"/>
<rect x="621.3" y="441.2" width="12.1" height="12.1"/>
<rect x="628.0" y="441.2" width="12.1" height="12.1"/>
<rect x="563.4" y="458.7" width="12.1" height="12.1"/>
<rect x="582.3" y="457.4" width="12.1" height="12.1"/>
<rect x="594.4" y="457.4" width="12.1" height="12.1"/>
<rect x="621.3" y="458.7" width="12.1" height="12.1"/>
<rect x="636.1" y="454.7" width="12.1" height="12.1"/>
<rect x="626.7" y="465.5" width="12.1" height="12.1"/>
<rect x="458.4" y="443.9" width="12.1" height="12.1"/>
<rect x="446.3" y="461.4" width="12.1" height="12.1"/>
<rect x="466.5" y="460.1" width="12.1" height="12.1"/>
<rect x="478.6" y="458.7" width="12.1" height="12.1"/>
<rect x="466.5" y="469.5" width="12.1" height="12.1"/>
<rect x="440.9" y="478.9" width="12.1" height="12.1"/>
<rect x="454.3" y="484.3" width="12.1" height="12.1"/>
<rect x="461.1" y="485.7" width="12.1" height="12.1"/>
<rect x="521.7" y="452.0" width="12.1" height="12.1"/>
<rect x="520.3" y="458.7" width="12.1" height="12.1"/>
<rect x="521.7" y="472.2" width="12.1" height="12.1"/>
<rect x="531.1" y="470.9" width="12.1" height="12.1"/>
<rect x="539.2" y="472.2" width="12.1" height="12.1"/>
<rect x="528.4" y="480.3" width="12.1" height="12.1"/>
<rect x="548.6" y="478.9" width="12.1" height="12.1"/>
<rect x="558.0" y="472.2" width="12.1" height="12.1"/>
<rect x="531.1" y="491.1" width="12.1" height="12.1"/>
<rect x="539.2" y="504.5" width="12.1" height="12.1"/>
<rect x="599.8" y="493.7" width="12.1" height="12.1"/>
<rect x="440.9" y="509.2" width="12.1" height="12.1"/>
<rect x="438.2" y="535.5" width="12.1" height="12.1"/>
<rect x="698.8" y="388.7" width="12.1" height="12.1"/>
<rect x="690.7" y="402.2" width="12.1" height="12.1"/>
<rect x="701.5" y="404.9" width="12.1" height="12.1"/>
<rect x="702.8" y="411.6" width="12.1" height="12.1"/>
<rect x="725.7" y="404.2" width="12.1" height="12.1"/>
<rect x="740.5" y="399.5" width="12.1" height="12.1"/>
<rect x="751.3" y="399.5" width="12.1" height="12.1"/>
<rect x="758.0" y="402.2" width="12.1" height="12.1"/>
<rect x="764.7" y="399.5" width="12.1" height="12.1"/>
<rect x="772.8" y="404.9" width="12.1" height="12.1"/>
<rect x="778.2" y="406.2" width="12.1" height="12.1"/>
<rect x="791.7" y="391.4" width="12.1" height="12.1"/>
<rect x="806.5" y="386.7" width="12.1" height="12.1"/>
<rect x="819.9" y="386.0" width="12.1" height="12.1"/>
<rect x="810.5" y="406.9" width="12.1" height="12.1"/>
<rect x="798.4" y="418.3" width="12.1" height="12.1"/>
<rect x="789.0" y="414.3" width="12.1" height="12.1"/>
<rect x="799.7" y="411.6" width="12.1" height="12.1"/>
<rect x="802.4" y="434.5" width="12.1" height="12.1"/>
<rect x="806.5" y="437.2" width="12.1" height="12.1"/>
<rect x="731.1" y="422.4" width="12.1" height="12.1"/>
<rect x="751.3" y="425.1" width="12.1" height="12.1"/>
<rect x="767.4" y="419.7" width="12.1" height="12.1"/>
<rect x="740.5" y="439.9" width="12.1" height="12.1"/>
<rect x="747.2" y="441.2" width="12.1" height="12.1"/>
<rect x="759.4" y="441.2" width="12.1" height="12.1"/>
<rect x="745.9" y="450.7" width="12.1" height="12.1"/>
<rect x="764.7" y="454.7" width="12.1" height="12.1"/>
<rect x="755.3" y="465.5" width="12.1" height="12.1"/>
<rect x="836.1" y="411.6" width="12.1" height="12.1"/>
<rect x="848.2" y="421.0" width="12.1" height="12.1"/>
<rect x="859.0" y="408.9" width="12.1" height="12.1"/>
<rect x="871.1" y="408.9" width="12.1" height="12.1"/>
<rect x="841.5" y="387.4" width="12.1" height="12.1"/>
<rect x="863.0" y="387.4" width="12.1" height="12.1"/>
<rect x="880.5" y="388.7" width="12.1" height="12.1"/>
<rect x="885.9" y="395.5" width="12.1" height="12.1"/>
<rect x="896.7" y="384.0" width="12.1" height="12.1"/>
<rect x="867.1" y="425.1" width="12.1" height="12.1"/>
<rect x="879.2" y="429.1" width="12.1" height="12.1"/>
<rect x="841.5" y="439.9" width="12.1" height="12.1"/>
<rect x="853.6" y="438.5" width="12.1" height="12.1"/>
<rect x="869.8" y="438.5" width="12.1" height="12.1"/>
<rect x="850.9" y="450.7" width="12.1" height="12.1"/>
<rect x="864.4" y="450.7" width="12.1" height="12.1"/>
<rect x="844.2" y="461.4" width="12.1" height="12.1"/>
<rect x="850.9" y="470.9" width="12.1" height="12.1"/>
<rect x="898.0" y="410.3" width="12.1" height="12.1"/>
<rect x="906.1" y="410.3" width="12.1" height="12.1"/>
<rect x="902.1" y="429.1" width="12.1" height="12.1"/>
<rect x="912.8" y="430.5" width="12.1" height="12.1"/>
<rect x="910.2" y="435.8" width="12.1" height="12.1"/>
<rect x="899.4" y="470.9" width="12.1" height="12.1"/>
<rect x="908.8" y="478.9" width="12.1" height="12.1"/>
<rect x="749.9" y="503.2" width="12.1" height="12.1"/>
<rect x="937.9" y="203.8" width="12.1" height="12.1"/>
<rect x="980.6" y="363.6" width="12.1" height="12.1"/>
<rect x="1124.1" y="275.9" width="12.1" height="12.1"/>
<rect x="1177.6" y="275.9" width="12.1" height="12.1"/>
<rect x="1088.4" y="293.8" width="12.1" height="12.1"/>
<rect x="1105.5" y="303.1" width="12.1" height="12.1"/>
<rect x="1085.3" y="308.5" width="12.1" height="12.1"/>
<rect x="1150.5" y="296.9" width="12.1" height="12.1"/>
<rect x="1144.3" y="309.3" width="12.1" height="12.1"/>
<rect x="1180.0" y="303.1" width="12.1" height="12.1"/>
<rect x="1178.4" y="312.4" width="12.1" height="12.1"/>
<rect x="1175.3" y="315.5" width="12.1" height="12.1"/>
<rect x="1204.8" y="296.9" width="12.1" height="12.1"/>
<rect x="1201.7" y="310.1" width="12.1" height="12.1"/>
<rect x="1097.0" y="325.6" width="12.1" height="12.1"/>
<rect x="1094.6" y="334.1" width="12.1" height="12.1"/>
<rect x="1083.8" y="334.1" width="12.1" height="12.1"/>
<rect x="1124.1" y="320.1" width="12.1" height="12.1"/>
<rect x="1127.2" y="327.9" width="12.1" height="12.1"/>
<rect x="1114.8" y="332.6" width="12.1" height="12.1"/>
<rect x="1114.8" y="345.0" width="12.1" height="12.1"/>
<rect x="1079.1" y="353.5" width="12.1" height="12.1"/>
<rect x="1096.2" y="353.5" width="12.1" height="12.1"/>
<rect x="1107.0" y="365.1" width="12.1" height="12.1"/>
<rect x="1122.6" y="365.1" width="12.1" height="12.1"/>
<rect x="1166.0" y="335.7" width="12.1" height="12.1"/>
<rect x="1147.4" y="345.0" width="12.1" height="12.1"/>
<rect x="1166.0" y="352.7" width="12.1" height="12.1"/>
<rect x="1169.1" y="357.4" width="12.1" height="12.1"/>
<rect x="1153.6" y="363.6" width="12.1" height="12.1"/>
<rect x="1187.7" y="355.8" width="12.1" height="12.1"/>
<rect x="1204.8" y="344.2" width="12.1" height="12.1"/>
<rect x="1203.2" y="366.7" width="12.1" height="12.1"/>
<rect x="1144.3" y="366.7" width="12.1" height="12.1"/>
<rect x="944.1" y="378.0" width="12.1" height="12.1"/>
<rect x="944.1" y="392.0" width="12.1" height="12.1"/>
<rect x="958.9" y="398.2" width="12.1" height="12.1"/>
<rect x="976.7" y="392.8" width="12.1" height="12.1"/>
<rect x="982.9" y="393.6" width="12.1" height="12.1"/>
<rect x="989.1" y="407.5" width="12.1" height="12.1"/>
<rect x="941.0" y="413.7" width="12.1" height="12.1"/>
<rect x="955.0" y="417.6" width="12.1" height="12.1"/>
<rect x="962.7" y="416.8" width="12.1" height="12.1"/>
<rect x="950.3" y="430.0" width="12.1" height="12.1"/>
<rect x="995.3" y="425.4" width="12.1" height="12.1"/>
<rect x="978.3" y="437.8" width="12.1" height="12.1"/>
<rect x="982.9" y="440.9" width="12.1" height="12.1"/>
<rect x="979.8" y="448.6" width="12.1" height="12.1"/>
<rect x="952.7" y="457.9" width="12.1" height="12.1"/>
<rect x="992.2" y="461.0" width="12.1" height="12.1"/>
<rect x="1007.7" y="454.8" width="12.1" height="12.1"/>
<rect x="1013.9" y="454.8" width="12.1" height="12.1"/>
<rect x="1023.3" y="442.4" width="12.1" height="12.1"/>
<rect x="1024.8" y="451.7" width="12.1" height="12.1"/>
<rect x="1043.4" y="449.4" width="12.1" height="12.1"/>
<rect x="1052.7" y="447.1" width="12.1" height="12.1"/>
<rect x="1058.9" y="433.1" width="12.1" height="12.1"/>
<rect x="1066.7" y="428.5" width="12.1" height="12.1"/>
<rect x="1060.5" y="445.5" width="12.1" height="12.1"/>
<rect x="1068.2" y="445.5" width="12.1" height="12.1"/>
<rect x="1079.1" y="445.5" width="12.1" height="12.1"/>
<rect x="1058.9" y="461.0" width="12.1" height="12.1"/>
<rect x="1072.9" y="399.0" width="12.1" height="12.1"/>
<rect x="1076.0" y="383.5" width="12.1" height="12.1"/>
<rect x="1054.3" y="400.5" width="12.1" height="12.1"/>
<rect x="1052.7" y="411.4" width="12.1" height="12.1"/>
<rect x="1040.3" y="407.5" width="12.1" height="12.1"/>
<rect x="1080.7" y="412.9" width="12.1" height="12.1"/>
<rect x="1093.1" y="403.6" width="12.1" height="12.1"/>
<rect x="1103.9" y="400.5" width="12.1" height="12.1"/>
<rect x="1100.8" y="414.5" width="12.1" height="12.1"/>
<rect x="1121.0" y="412.9" width="12.1" height="12.1"/>
<rect x="1139.6" y="397.4" width="12.1" height="12.1"/>
<rect x="1141.2" y="409.8" width="12.1" height="12.1"/>
<rect x="1152.0" y="391.2" width="12.1" height="12.1"/>
<rect x="1172.2" y="391.2" width="12.1" height="12.1"/>
<rect x="1169.1" y="402.1" width="12.1" height="12.1"/>
<rect x="1184.6" y="409.8" width="12.1" height="12.1"/>
<rect x="1195.5" y="400.5" width="12.1" height="12.1"/>
<rect x="1198.6" y="408.3" width="12.1" height="12.1"/>
<rect x="1207.9" y="389.7" width="12.1" height="12.1"/>
<rect x="1111.7" y="449.4" width="12.1" height="12.1"/>
<rect x="1128.8" y="448.6" width="12.1" height="12.1"/>
<rect x="1139.6" y="444.0" width="12.1" height="12.1"/>
<rect x="1158.2" y="446.3" width="12.1" height="12.1"/>
<rect x="1133.4" y="460.3" width="12.1" height="12.1"/>
<rect x="1156.7" y="470.4" width="12.1" height="12.1"/>
<rect x="1192.4" y="444.0" width="12.1" height="12.1"/>
<rect x="1189.3" y="459.5" width="12.1" height="12.1"/>
<rect x="959.6" y="476.6" width="12.1" height="12.1"/>
<rect x="967.4" y="475.0" width="12.1" height="12.1"/>
<rect x="973.6" y="476.6" width="12.1" height="12.1"/>
<rect x="986.0" y="475.0" width="12.1" height="12.1"/>
<rect x="996.9" y="475.0" width="12.1" height="12.1"/>
<rect x="1004.6" y="478.1" width="12.1" height="12.1"/>
<rect x="1034.1" y="470.4" width="12.1" height="12.1"/>
<rect x="1046.5" y="476.6" width="12.1" height="12.1"/>
<rect x="1048.1" y="482.8" width="12.1" height="12.1"/>
<rect x="1029.5" y="484.3" width="12.1" height="12.1"/>
<rect x="950.3" y="496.7" width="12.1" height="12.1"/>
<rect x="970.5" y="506.0" width="12.1" height="12.1"/>
<rect x="989.1" y="494.4" width="12.1" height="12.1"/>
<rect x="1004.6" y="504.5" width="12.1" height="12.1"/>
<rect x="1009.3" y="507.6" width="12.1" height="12.1"/>
<rect x="1017.0" y="496.7" width="12.1" height="12.1"/>
<rect x="1037.2" y="495.2" width="12.1" height="12.1"/>
<rect x="1060.5" y="499.8" width="12.1" height="12.1"/>
<rect x="953.4" y="523.9" width="12.1" height="12.1"/>
<rect x="965.8" y="529.3" width="12.1" height="12.1"/>
<rect x="968.9" y="540.2" width="12.1" height="12.1"/>
<rect x="996.9" y="544.8" width="12.1" height="12.1"/>
<rect x="1010.8" y="535.5" width="12.1" height="12.1"/>
<rect x="1020.1" y="529.3" width="12.1" height="12.1"/>
<rect x="1031.0" y="516.9" width="12.1" height="12.1"/>
<rect x="1043.4" y="524.7" width="12.1" height="12.1"/>
<rect x="1063.6" y="527.0" width="12.1" height="12.1"/>
<rect x="1017.0" y="552.6" width="12.1" height="12.1"/>
<rect x="1048.1" y="554.1" width="12.1" height="12.1"/>
<rect x="1136.5" y="506.0" width="12.1" height="12.1"/>
<rect x="1133.4" y="518.5" width="12.1" height="12.1"/>
<rect x="1192.4" y="506.0" width="12.1" height="12.1"/>
<rect x="1187.7" y="518.5" width="12.1" height="12.1"/>
<rect x="1128.8" y="555.7" width="12.1" height="12.1"/>
<rect x="1012.4" y="560.1" width="12.1" height="12.1"/>
<rect x="1017.0" y="562.4" width="12.1" height="12.1"/>
<rect x="1049.6" y="560.1" width="12.1" height="12.1"/>
<rect x="1130.3" y="563.9" width="12.1" height="12.1"/>
<rect x="1003.9" y="587.2" width="12.1" height="12.1"/>
<rect x="1032.6" y="596.5" width="12.1" height="12.1"/>
<rect x="1033.3" y="600.4" width="12.1" height="12.1"/>
<rect x="256.6" y="659.7" width="12.1" height="12.1"/>
<rect x="262.0" y="665.1" width="12.1" height="12.1"/>
<rect x="255.2" y="670.5" width="12.1" height="12.1"/>
<rect x="264.7" y="658.4" width="12.1" height="12.1"/>
<rect x="279.5" y="661.1" width="12.1" height="12.1"/>
<rect x="288.9" y="658.4" width="12.1" height="12.1"/>
<rect x="297.0" y="665.1" width="12.1" height="12.1"/>
<rect x="303.7" y="670.5" width="12.1" height="12.1"/>
<rect x="286.2" y="670.5" width="12.1" height="12.1"/>
<rect x="278.1" y="673.2" width="12.1" height="12.1"/>
<rect x="294.3" y="675.9" width="12.1" height="12.1"/>
<rect x="259.3" y="684.0" width="12.1" height="12.1"/>
<rect x="279.5" y="684.0" width="12.1" height="12.1"/>
<rect x="297.0" y="681.3" width="12.1" height="12.1"/>
<rect x="334.7" y="710.9" width="12.1" height="12.1"/>
<rect x="346.8" y="710.9" width="12.1" height="12.1"/>
<rect x="340.1" y="721.7" width="12.1" height="12.1"/>
<rect x="350.8" y="720.3" width="12.1" height="12.1"/>
<rect x="367.0" y="684.0" width="12.1" height="12.1"/>
<rect x="380.5" y="681.3" width="12.1" height="12.1"/>
<rect x="387.2" y="689.4" width="12.1" height="12.1"/>
<rect x="373.7" y="697.4" width="12.1" height="12.1"/>
<rect x="367.0" y="708.2" width="12.1" height="12.1"/>
<rect x="380.5" y="708.2" width="12.1" height="12.1"/>
<rect x="387.2" y="719.0" width="12.1" height="12.1"/>
<rect x="369.7" y="721.7" width="12.1" height="12.1"/>
<rect x="402.0" y="708.2" width="12.1" height="12.1"/>
<rect x="410.1" y="697.4" width="12.1" height="12.1"/>
<rect x="418.2" y="708.2" width="12.1" height="12.1"/>
<rect x="407.4" y="719.0" width="12.1" height="12.1"/>
<rect x="420.8" y="714.9" width="12.1" height="12.1"/>
<rect x="326.6" y="735.1" width="12.1" height="12.1"/>
<rect x="337.4" y="737.8" width="12.1" height="12.1"/>
<rect x="326.6" y="745.9" width="12.1" height="12.1"/>
<rect x="340.1" y="755.3" width="12.1" height="12.1"/>
<rect x="353.5" y="755.3" width="12.1" height="12.1"/>
<rect x="360.3" y="748.6" width="12.1" height="12.1"/>
<rect x="373.7" y="743.2" width="12.1" height="12.1"/>
<rect x="383.1" y="748.6" width="12.1" height="12.1"/>
<rect x="367.0" y="759.4" width="12.1" height="12.1"/>
<rect x="197.3" y="651.7" width="12.1" height="12.1"/>
<rect x="202.7" y="654.3" width="12.1" height="12.1"/>
<rect x="245.8" y="719.0" width="12.1" height="12.1"/>
<rect x="252.5" y="721.7" width="12.1" height="12.1"/>
<rect x="248.5" y="728.4" width="12.1" height="12.1"/>
<rect x="444.9" y="407.6" width="12.1" height="12.1"/>
<rect x="451.7" y="414.3" width="12.1" height="12.1"/>
<rect x="440.9" y="414.3" width="12.1" height="12.1"/>
<rect x="449.0" y="403.6" width="12.1" height="12.1"/>
<rect x="473.2" y="382.0" width="12.1" height="12.1"/>
<rect x="470.5" y="390.1" width="12.1" height="12.1"/>
<rect x="477.2" y="387.4" width="12.1" height="12.1"/>
<rect x="521.7" y="454.7" width="12.1" height="12.1"/>
<rect x="519.0" y="461.5" width="12.1" height="12.1"/>
<rect x="525.7" y="468.2" width="12.1" height="12.1"/>
<rect x="532.4" y="473.6" width="12.1" height="12.1"/>
<rect x="521.7" y="476.3" width="12.1" height="12.1"/>
<rect x="543.2" y="414.3" width="12.1" height="12.1"/>
<rect x="551.3" y="409.0" width="12.1" height="12.1"/>
<rect x="555.3" y="417.0" width="12.1" height="12.1"/>
<rect x="548.6" y="427.8" width="12.1" height="12.1"/>
<rect x="562.1" y="411.7" width="12.1" height="12.1"/>
<rect x="543.2" y="404.9" width="12.1" height="12.1"/>
<rect x="609.2" y="398.2" width="12.1" height="12.1"/>
<rect x="615.9" y="407.6" width="12.1" height="12.1"/>
<rect x="622.6" y="400.9" width="12.1" height="12.1"/>
<rect x="632.1" y="394.1" width="12.1" height="12.1"/>
<rect x="642.8" y="404.9" width="12.1" height="12.1"/>
<rect x="636.1" y="414.3" width="12.1" height="12.1"/>
<rect x="629.4" y="417.0" width="12.1" height="12.1"/>
<rect x="621.3" y="390.1" width="12.1" height="12.1"/>
<rect x="602.5" y="390.1" width="12.1" height="12.1"/>
<rect x="589.0" y="387.4" width="12.1" height="12.1"/>
<rect x="595.7" y="394.1" width="12.1" height="12.1"/>
<rect x="582.3" y="430.5" width="12.1" height="12.1"/>
<rect x="575.5" y="437.2" width="12.1" height="12.1"/>
<rect x="589.0" y="444.0" width="12.1" height="12.1"/>
<rect x="615.9" y="441.3" width="12.1" height="12.1"/>
<rect x="622.6" y="439.9" width="12.1" height="12.1"/>
<rect x="629.4" y="441.3" width="12.1" height="12.1"/>
</g>
<path d="M198.4 30.8 V1114 M178.2 1111.8 H1276" stroke="#000" stroke-width="4.6" fill="none"/>
<circle cx="1276" cy="1111.8" r="2.3" fill="#000"/>
<path d="M180.5 33 H198.4" stroke="#000" stroke-width="4.4" fill="none" stroke-linecap="round"/>
<path d="M180.5 303 H198.4" stroke="#000" stroke-width="4.4" fill="none" stroke-linecap="round"/>
<path d="M180.5 573 H198.4" stroke="#000" stroke-width="4.4" fill="none" stroke-linecap="round"/>
<path d="M180.5 842.5 H198.4" stroke="#000" stroke-width="4.4" fill="none" stroke-linecap="round"/>
<path d="M180.5 33 H198.4" stroke="#000" stroke-width="4.4" fill="none"/>
<path d="M1569.2 75.2 V495.8 M1553.8 493.5 H2006" stroke="#000" stroke-width="4.6" fill="none"/>
<path d="M1553.8 77.5 H1569.2" stroke="#000" stroke-width="4.6" fill="none"/>
<path d="M1553.8 182 H1569.2" stroke="#000" stroke-width="4.6" fill="none"/>
<path d="M1553.8 287.7 H1569.2" stroke="#000" stroke-width="4.6" fill="none"/>
<path d="M1553.8 391 H1569.2" stroke="#000" stroke-width="4.6" fill="none"/>
<rect x="1595.2" y="407.6" width="38.1" height="85.9" fill="#0000C8"/>
<path d="M1614.00 407.6 V376.7" stroke="#0000C8" stroke-width="4.8" fill="none"/>
<path d="M1605.50 376.79999999999995 H1622.50" stroke="#0000C8" stroke-width="4.8" fill="none"/>
<rect x="1645.0" y="394.3" width="42.6" height="99.2" fill="#C83200"/>
<path d="M1664.50 394.3 V363.8" stroke="#C83200" stroke-width="4.8" fill="none"/>
<path d="M1656.00 363.9 H1673.00" stroke="#C83200" stroke-width="4.8" fill="none"/>
<rect x="1744.8" y="184.4" width="38.9" height="309.1" fill="#0000C8"/>
<path d="M1763.10 184.4 V155.10000000000002" stroke="#0000C8" stroke-width="4.8" fill="none"/>
<path d="M1754.60 155.20000000000002 H1771.60" stroke="#0000C8" stroke-width="4.8" fill="none"/>
<rect x="1795.0" y="289.4" width="38.0" height="204.1" fill="#C83200"/>
<path d="M1813.85 289.4 V258.6" stroke="#C83200" stroke-width="4.8" fill="none"/>
<path d="M1805.35 258.7 H1822.35" stroke="#C83200" stroke-width="4.8" fill="none"/>
<rect x="1897.4" y="325.3" width="38.5" height="168.2" fill="#0000C8"/>
<path d="M1916.35 325.3 V289.2" stroke="#0000C8" stroke-width="4.8" fill="none"/>
<path d="M1907.85 289.29999999999995 H1924.85" stroke="#0000C8" stroke-width="4.8" fill="none"/>
<rect x="1948.0" y="352.4" width="38.4" height="141.1" fill="#C83200"/>
<path d="M1966.45 352.4 V321.0" stroke="#C83200" stroke-width="4.8" fill="none"/>
<path d="M1957.95 321.09999999999997 H1974.95" stroke="#C83200" stroke-width="4.8" fill="none"/>
<path d="M1569.2 693.3 V1112.8999999999999 M1553.8 1110.6 H2006" stroke="#000" stroke-width="4.6" fill="none"/>
<path d="M1553.8 695.6 H1569.2" stroke="#000" stroke-width="4.6" fill="none"/>
<path d="M1553.8 798.8 H1569.2" stroke="#000" stroke-width="4.6" fill="none"/>
<path d="M1553.8 904.8 H1569.2" stroke="#000" stroke-width="4.6" fill="none"/>
<path d="M1553.8 1007.9 H1569.2" stroke="#000" stroke-width="4.6" fill="none"/>
<rect x="1594.1" y="1036.3" width="38.1" height="74.3" fill="#0000C8"/>
<path d="M1612.75 1036.3 V1003.5999999999999" stroke="#0000C8" stroke-width="4.8" fill="none"/>
<path d="M1604.25 1003.6999999999999 H1621.25" stroke="#0000C8" stroke-width="4.8" fill="none"/>
<rect x="1645.0" y="1022.7" width="38.1" height="87.9" fill="#C83200"/>
<path d="M1663.60 1022.7 V991.3" stroke="#C83200" stroke-width="4.8" fill="none"/>
<path d="M1655.10 991.4 H1672.10" stroke="#C83200" stroke-width="4.8" fill="none"/>
<rect x="1744.2" y="815.1" width="38.0" height="295.5" fill="#0000C8"/>
<path d="M1762.25 815.1 V773.1999999999999" stroke="#0000C8" stroke-width="4.8" fill="none"/>
<path d="M1753.75 773.3 H1770.75" stroke="#0000C8" stroke-width="4.8" fill="none"/>
<rect x="1793.9" y="921.2" width="39.1" height="189.4" fill="#C83200"/>
<path d="M1813.00 921.2 V891.0" stroke="#C83200" stroke-width="4.8" fill="none"/>
<path d="M1804.50 891.1 H1821.50" stroke="#C83200" stroke-width="4.8" fill="none"/>
<rect x="1896.4" y="986.5" width="38.4" height="124.1" fill="#0000C8"/>
<path d="M1915.35 986.5 V925.5999999999999" stroke="#0000C8" stroke-width="4.8" fill="none"/>
<path d="M1906.85 925.6999999999999 H1923.85" stroke="#0000C8" stroke-width="4.8" fill="none"/>
<rect x="1947.2" y="913.3" width="38.2" height="197.3" fill="#C83200"/>
<path d="M1965.65 913.3 V863.6999999999999" stroke="#C83200" stroke-width="4.8" fill="none"/>
<path d="M1957.15 863.8 H1974.15" stroke="#C83200" stroke-width="4.8" fill="none"/>
<path d="M1663.7 60.4 H1806.3" stroke="#000" stroke-width="4.8" fill="none"/>
<path d="M1614.2 91.8 H1757.8" stroke="#000" stroke-width="4.8" fill="none"/>
<path d="M1769.8 91.8 H1915.5" stroke="#000" stroke-width="4.8" fill="none"/>
<path d="M1758.8 126.9 H1813.8" stroke="#000" stroke-width="4.8" fill="none"/>
<path d="M1613.5 739.8 H1755.8" stroke="#000" stroke-width="4.8" fill="none"/>
<path d="M1769.3 739.8 H1914.0" stroke="#000" stroke-width="4.8" fill="none"/>
<text x="68.5" y="46.8" font-size="37.6" fill="#000">0.015</text>
<text x="66.8" y="320.8" font-size="37.6" fill="#000">0.010</text>
<text x="68.5" y="583.5" font-size="37.6" fill="#000">0.005</text>
<text x="136.2" y="855.5" font-size="37.6" fill="#000">0</text>
<text x="53.1" y="1126.2" font-size="37.6" fill="#000">-0.005</text>
<text x="256.2" y="1100.7" font-size="37.6" fill="#000">Before</text>
<text x="597.7" y="1100.7" font-size="37.6" fill="#000">Reading</text>
<text x="1060.6" y="1100.6" font-size="37.6" fill="#000">After</text>
<text x="388.9" y="1181.5" font-size="37.6" fill="#000">120</text>
<text x="938.5" y="1160.3" font-size="37.6" fill="#000">449</text>
<text x="908.5" y="1207.4" font-size="37.6" fill="#000">433</text>
<text x="1161.6" y="1182.3" font-size="37.6" fill="#000">t (s)</text>
<text x="478.1" y="92.1" font-size="37.6" fill="#C00000">Completion in paper (P)</text>
<text x="1007.3" y="80.7" font-size="37.6" fill="#1E1EF0">Completion in</text>
<text x="994.6" y="123.2" font-size="37.6" fill="#1E1EF0">smartphone (S)</text>
<text x="1447.5" y="89.5" font-size="37.6" fill="#000">0.020</text>
<text x="1447.1" y="195.3" font-size="37.6" fill="#000">0.015</text>
<text x="1448.2" y="301.5" font-size="37.6" fill="#000">0.010</text>
<text x="1449.2" y="404.4" font-size="37.6" fill="#000">0.005</text>
<text x="1521.8" y="506.4" font-size="37.6" fill="#000">0</text>
<text x="1599.3" y="541.5" font-size="37.6" fill="#000">S</text>
<text x="1652.4" y="541.5" font-size="37.6" fill="#000">P</text>
<text x="1749.2" y="541.5" font-size="37.6" fill="#000">S</text>
<text x="1801.2" y="541.5" font-size="37.6" fill="#000">P</text>
<text x="1902.9" y="541.5" font-size="37.6" fill="#000">S</text>
<text x="1954.9" y="541.5" font-size="37.6" fill="#000">P</text>
<text x="1568.8" y="592.6" font-size="37.6" fill="#000">Before</text>
<text x="1714.3" y="592.9" font-size="37.6" fill="#000">Reading</text>
<text x="1896.4" y="592.9" font-size="37.6" fill="#000">After</text>
<text x="1447.1" y="707.0" font-size="37.6" fill="#000">0.020</text>
<text x="1446.8" y="811.2" font-size="37.6" fill="#000">0.015</text>
<text x="1447.9" y="918.8" font-size="37.6" fill="#000">0.010</text>
<text x="1448.0" y="1022.0" font-size="37.6" fill="#000">0.005</text>
<text x="1520.4" y="1121.8" font-size="37.6" fill="#000">0</text>
<text x="1598.5" y="1158.3" font-size="37.6" fill="#000">S</text>
<text x="1650.9" y="1158.3" font-size="37.6" fill="#000">P</text>
<text x="1749.2" y="1158.3" font-size="37.6" fill="#000">S</text>
<text x="1801.2" y="1158.3" font-size="37.6" fill="#000">P</text>
<text x="1902.9" y="1158.3" font-size="37.6" fill="#000">S</text>
<text x="1954.9" y="1158.3" font-size="37.6" fill="#000">P</text>
<text x="1569.0" y="1209.2" font-size="37.6" fill="#000">Before</text>
<text x="1714.3" y="1209.6" font-size="37.6" fill="#000">Reading</text>
<text x="1896.4" y="1209.6" font-size="37.6" fill="#000">After</text>
<text x="-6.5" y="41.8" font-size="58" fill="#000">a</text>
<text x="1322.9" y="40.7" font-size="58" fill="#000">b</text>
<text x="1325.0" y="674.7" font-size="58" fill="#000">c</text>
<text transform="translate(37.0,854.2) rotate(-90)" font-size="37.4" fill="#000">Activity in left NIRS probe (mM)</text>
<text transform="translate(1408.5,547.8) rotate(-90)" font-size="37.4" fill="#000">Activity left NIRS probe (mM)</text>
<text transform="translate(1409.6,1178.5) rotate(-90)" font-size="37.4" fill="#000">Activity right NIRS probe (mM)</text>
<text x="1723.7" y="70.5" font-size="47" fill="#000">*</text>
<text x="1677.6" y="101.3" font-size="47" fill="#000">*</text>
<text x="1828.7" y="101.3" font-size="47" fill="#000">*</text>
<text x="1776.7" y="135.2" font-size="47" fill="#000">*</text>
<text x="1675.5" y="750.0" font-size="47" fill="#000">*</text>
<text x="1828.5" y="750.0" font-size="47" fill="#000">*</text>
</svg></body></html>
